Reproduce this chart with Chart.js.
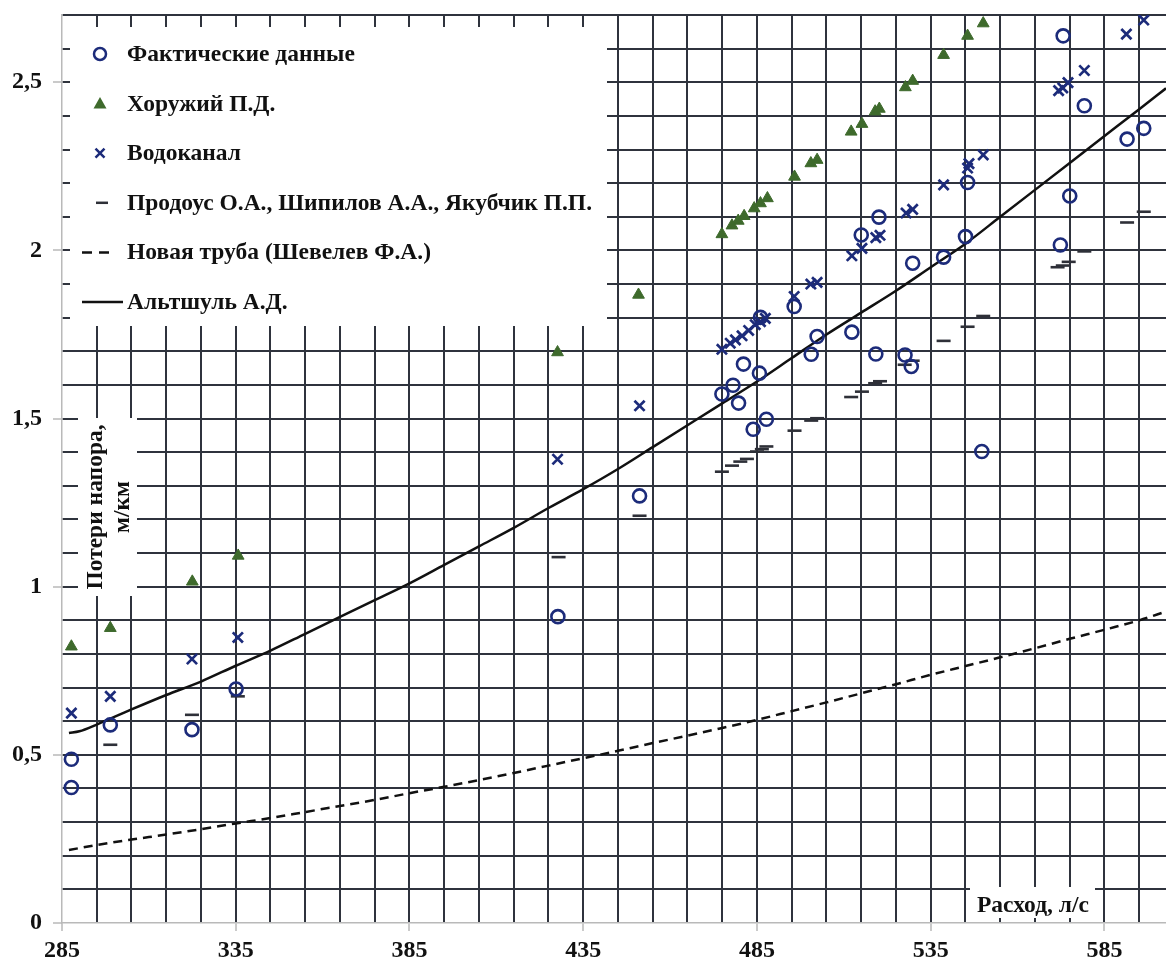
<!DOCTYPE html>
<html lang="ru">
<head>
<meta charset="utf-8">
<title>Потери напора</title>
<script src="https://cdn.jsdelivr.net/npm/chart.js@4/dist/chart.umd.min.js"></script>
<style>
  html, body { margin: 0; padding: 0; background: #fff; }
  canvas { display: block; }
</style>
</head>
<body>
<canvas id="chart" width="1166" height="963"></canvas>
<script>
// Axis ticks (grid every 10 l/s and every 0.1 m/km, labels on a coarser step)
const xGrid = [285, 295, 305, 315, 325, 335, 345, 355, 365, 375, 385, 395, 405, 415, 425, 435,
  445, 455, 465, 475, 485, 495, 505, 515, 525, 535, 545, 555, 565, 575, 585, 595];
const xLabels = [285, 335, 385, 435, 485, 535, 585];
const yGrid = [0, 0.1, 0.2, 0.3, 0.4, 0.5, 0.6, 0.7, 0.8, 0.9, 1, 1.1, 1.2, 1.3, 1.4, 1.5,
  1.6, 1.7, 1.8, 1.9, 2, 2.1, 2.2, 2.3, 2.4, 2.5, 2.6, 2.7];
const yLabels = [0, 0.5, 1, 1.5, 2, 2.5];

// Фактические данные
const factX = [287.7, 287.7, 298.9, 322.4, 335.1, 427.7, 451.2, 474.9, 478.1, 479.7, 481.1, 483.9,
  485.7, 486.0, 487.7, 495.7, 500.6, 502.3, 512.3, 515.0, 519.2, 520.1, 527.6, 529.4, 529.8,
  538.7, 545.0, 545.6, 549.7, 572.3, 573.1, 575.0, 579.2, 591.5, 596.3];
const factY = [0.487, 0.403, 0.589, 0.575, 0.696, 0.911, 1.270, 1.573, 1.599, 1.546, 1.662, 1.468,
  1.635, 1.801, 1.498, 1.833, 1.691, 1.744, 1.757, 2.046, 1.692, 2.099, 1.689, 1.655, 1.962,
  1.980, 2.041, 2.202, 1.402, 2.016, 2.638, 2.162, 2.430, 2.331, 2.363];

// Хоружий П.Д.
const khorX = [287.7, 298.9, 322.5, 335.7, 427.6, 450.9, 474.9, 477.8, 479.6, 481.3, 484.2, 486.0,
  488.0, 495.8, 500.5, 502.3, 512.1, 515.2, 519.0, 520.2, 527.7, 529.8, 538.7, 545.6, 550.1];
const khorY = [0.822, 0.877, 1.015, 1.092, 1.697, 1.868, 2.048, 2.074, 2.088, 2.102, 2.125, 2.140,
  2.155, 2.219, 2.259, 2.269, 2.353, 2.376, 2.413, 2.421, 2.485, 2.504, 2.581, 2.638, 2.675];

// Водоканал
const vodX = [287.7, 298.9, 322.4, 335.6, 427.6, 451.2, 474.9, 477.3, 478.8, 480.7, 482.6, 484.5,
  486.0, 487.4, 495.7, 500.5, 502.3, 512.3, 515.2, 519.2, 520.4, 527.9, 529.8, 538.7, 545.6,
  546.0, 550.1, 571.8, 573.0, 574.5, 579.2, 591.3, 596.3];
const vodY = [0.624, 0.674, 0.785, 0.849, 1.379, 1.538, 1.706, 1.724, 1.734, 1.746, 1.762, 1.779,
  1.788, 1.798, 1.863, 1.900, 1.905, 1.984, 2.006, 2.038, 2.045, 2.111, 2.122, 2.195, 2.245,
  2.258, 2.284, 2.475, 2.483, 2.499, 2.535, 2.643, 2.685];

// Продоус О.А., Шипилов А.А., Якубчик П.П.
const prodX = [298.9, 322.4, 335.6, 427.9, 451.2, 474.9, 477.8, 480.2, 482.1, 485.0, 486.4, 487.7,
  495.8, 500.6, 502.3, 512.1, 515.2, 519.0, 520.4, 527.5, 529.8, 538.7, 545.6, 550.1, 571.5,
  573.0, 574.7, 579.2, 591.5, 596.3];
const prodY = [0.530, 0.619, 0.674, 1.088, 1.211, 1.342, 1.360, 1.372, 1.380, 1.402, 1.409, 1.417,
  1.464, 1.494, 1.501, 1.564, 1.580, 1.605, 1.611, 1.660, 1.672, 1.731, 1.773, 1.805, 1.950,
  1.955, 1.966, 1.997, 2.083, 2.115];

// Новая труба (Шевелев Ф.А.)
const newX = [287, 295, 305, 315, 325, 335, 345, 355, 365, 375, 385, 395, 405, 415, 425, 435, 445,
  455, 465, 475, 485, 495, 505, 515, 525, 535, 545, 555, 565, 575, 585, 595, 602.7];
const newY = [0.217, 0.232, 0.248, 0.263, 0.279, 0.296, 0.312, 0.330, 0.348, 0.366, 0.386, 0.405,
  0.425, 0.446, 0.468, 0.490, 0.512, 0.535, 0.557, 0.580, 0.604, 0.630, 0.656, 0.683, 0.710,
  0.738, 0.764, 0.790, 0.817, 0.845, 0.872, 0.900, 0.926];

// Альтшуль А.Д.
const altX = [287, 290, 295, 305, 315, 325, 335, 345, 355, 365, 375, 385, 395, 405, 415, 425, 435,
  445, 455, 465, 475, 485, 495, 505, 515, 525, 535, 545, 555, 565, 575, 585, 595, 602.7];
const altY = [0.565, 0.570, 0.590, 0.635, 0.678, 0.718, 0.765, 0.810, 0.860, 0.910, 0.960, 1.010,
  1.065, 1.120, 1.175, 1.234, 1.290, 1.350, 1.415, 1.480, 1.545, 1.610, 1.680, 1.750, 1.815,
  1.880, 1.950, 2.020, 2.100, 2.180, 2.260, 2.340, 2.420, 2.482];

const pts = (xs, ys) => xs.map((x, i) => ({ x, y: ys[i] }));

const navy = "#1c2b7a";
const green = "#3e6a2c";
const dashGray = "#2e3038";
const gridColor = "#2f333d";
const axisGray = "#b9b9b9";
const serif = '"Liberation Serif", "Times New Roman", serif';

// white patches over the grid (legend, axis titles)
const blanks = [
  { x: 70, y: 27, w: 537, h: 299 },
  { x: 78, y: 418, w: 59, h: 178 },
  { x: 970, y: 887, w: 125, h: 31 },
];

function drawLegendMarker(ctx, kind, cx, cy) {
  ctx.save();
  ctx.lineWidth = 2.5;
  if (kind === "circle") {
    ctx.strokeStyle = navy;
    ctx.beginPath();
    ctx.arc(cx, cy, 6, 0, Math.PI * 2);
    ctx.stroke();
  } else if (kind === "triangle") {
    ctx.fillStyle = green;
    ctx.beginPath();
    ctx.moveTo(cx, cy - 6.5);
    ctx.lineTo(cx + 6.5, cy + 5);
    ctx.lineTo(cx - 6.5, cy + 5);
    ctx.closePath();
    ctx.fill();
  } else if (kind === "cross") {
    ctx.strokeStyle = navy;
    ctx.beginPath();
    ctx.moveTo(cx - 4.5, cy - 4.5); ctx.lineTo(cx + 4.5, cy + 4.5);
    ctx.moveTo(cx + 4.5, cy - 4.5); ctx.lineTo(cx - 4.5, cy + 4.5);
    ctx.stroke();
  } else if (kind === "dash") {
    ctx.strokeStyle = dashGray;
    ctx.beginPath();
    ctx.moveTo(cx - 4, cy); ctx.lineTo(cx + 8, cy);
    ctx.stroke();
  } else if (kind === "dashed") {
    ctx.strokeStyle = "#111";
    ctx.beginPath();
    ctx.moveTo(82, cy); ctx.lineTo(92, cy);
    ctx.moveTo(99, cy); ctx.lineTo(109, cy);
    ctx.stroke();
  } else {
    ctx.strokeStyle = "#111";
    ctx.beginPath();
    ctx.moveTo(82, cy); ctx.lineTo(123, cy);
    ctx.stroke();
  }
  ctx.restore();
}

const overlay = {
  id: "overlay",
  beforeDatasetsDraw(chart) {
    const ctx = chart.ctx;
    ctx.save();
    ctx.fillStyle = "#fff";
    blanks.forEach((b) => ctx.fillRect(b.x, b.y, b.w, b.h));
    ctx.restore();
  },
  afterDraw(chart) {
    const ctx = chart.ctx;
    ctx.save();
    ctx.fillStyle = "#111";
    ctx.font = "bold 23.5px " + serif;
    ctx.textBaseline = "middle";
    chart.data.datasets.forEach((ds, i) => {
      const y = 54 + i * 49.6;
      drawLegendMarker(ctx, ds.legendKind, 100, y);
      ctx.fillStyle = "#111";
      ctx.fillText(ds.label, 127, y + 1);
    });

    // axis titles
    ctx.font = "bold 23.5px " + serif;
    ctx.fillText("Расход, л/с", 977, 906);
    ctx.textAlign = "center";
    ctx.translate(96, 507);
    ctx.rotate(-Math.PI / 2);
    ctx.fillText("Потери напора,", 0, 0);
    ctx.fillText("м/км", 0, 27);
    ctx.restore();
  },
};

const ctx = document.getElementById("chart").getContext("2d");

new Chart(ctx, {
  type: "scatter",
  data: {
    datasets: [
      {
        label: "Фактические данные",
        legendKind: "circle",
        data: pts(factX, factY),
        pointStyle: "circle",
        pointRadius: 6.5,
        pointBorderWidth: 2.6,
        borderColor: navy,
        backgroundColor: "rgba(0,0,0,0)",
      },
      {
        label: "Хоружий П.Д.",
        legendKind: "triangle",
        data: pts(khorX, khorY),
        pointStyle: "triangle",
        pointRadius: 6.8,
        pointBorderWidth: 1,
        borderColor: green,
        backgroundColor: green,
      },
      {
        label: "Водоканал",
        legendKind: "cross",
        data: pts(vodX, vodY),
        pointStyle: "crossRot",
        pointRadius: 7.2,
        pointBorderWidth: 2.7,
        borderColor: navy,
        backgroundColor: navy,
      },
      {
        label: "Продоус О.А., Шипилов А.А., Якубчик П.П.",
        legendKind: "dash",
        data: pts(prodX, prodY),
        pointStyle: "line",
        pointRadius: 7,
        pointBorderWidth: 2.6,
        borderColor: dashGray,
        backgroundColor: dashGray,
      },
      {
        label: "Новая труба (Шевелев Ф.А.)",
        legendKind: "dashed",
        data: pts(newX, newY),
        showLine: true,
        pointRadius: 0,
        borderColor: "#111",
        borderWidth: 2.5,
        borderDash: [9, 6],
        tension: 0.3,
        cubicInterpolationMode: "monotone",
      },
      {
        label: "Альтшуль А.Д.",
        legendKind: "solid",
        data: pts(altX, altY),
        showLine: true,
        pointRadius: 0,
        borderColor: "#111",
        borderWidth: 2.5,
        tension: 0.3,
        cubicInterpolationMode: "monotone",
      },
    ],
  },
  options: {
    responsive: false,
    animation: false,
    events: [],
    layout: { autoPadding: false, padding: { top: 15, right: 0, left: 0, bottom: 0 } },
    plugins: {
      legend: { display: false },
      tooltip: { enabled: false },
    },
    scales: {
      x: {
        type: "linear",
        min: 285,
        max: 602.7,
        afterBuildTicks: (scale) => {
          scale.ticks = xGrid.map((v) => ({ value: v }));
        },
        afterFit: (scale) => {
          scale.height = 40;
          scale.paddingLeft = 0;
          scale.paddingRight = 0;
        },
        ticks: {
          autoSkip: false,
          maxRotation: 0,
          padding: 5,
          color: "#111",
          font: { family: serif, size: 24, weight: "bold" },
          callback: (v) => (xLabels.includes(v) ? String(v) : ""),
        },
        grid: {
          color: (c) => (c.tick && c.tick.value === 285 ? "rgba(0,0,0,0)" : gridColor),
          lineWidth: 2,
          tickLength: 8,
          tickWidth: 1.5,
          tickColor: (c) => (c.tick && xLabels.includes(c.tick.value) ? axisGray : "rgba(0,0,0,0)"),
        },
        border: { color: axisGray, width: 1.5 },
      },
      y: {
        type: "linear",
        min: 0,
        max: 2.7,
        afterBuildTicks: (scale) => {
          scale.ticks = yGrid.map((v) => ({ value: v }));
        },
        afterFit: (scale) => {
          scale.width = 62;
          scale.paddingTop = 0;
          scale.paddingBottom = 0;
        },
        ticks: {
          autoSkip: false,
          padding: 11,
          color: "#111",
          font: { family: serif, size: 24, weight: "bold" },
          callback: (v) => (yLabels.includes(v) ? String(v).replace(".", ",") : ""),
        },
        grid: {
          color: (c) => (c.tick && c.tick.value === 0 ? "rgba(0,0,0,0)" : gridColor),
          lineWidth: 2,
          tickLength: 9,
          tickWidth: 1.5,
          tickColor: (c) => (c.tick && yLabels.includes(c.tick.value) ? axisGray : "rgba(0,0,0,0)"),
        },
        border: { color: axisGray, width: 1.5 },
      },
    },
  },
  plugins: [overlay],
});
</script>
</body>
</html>
